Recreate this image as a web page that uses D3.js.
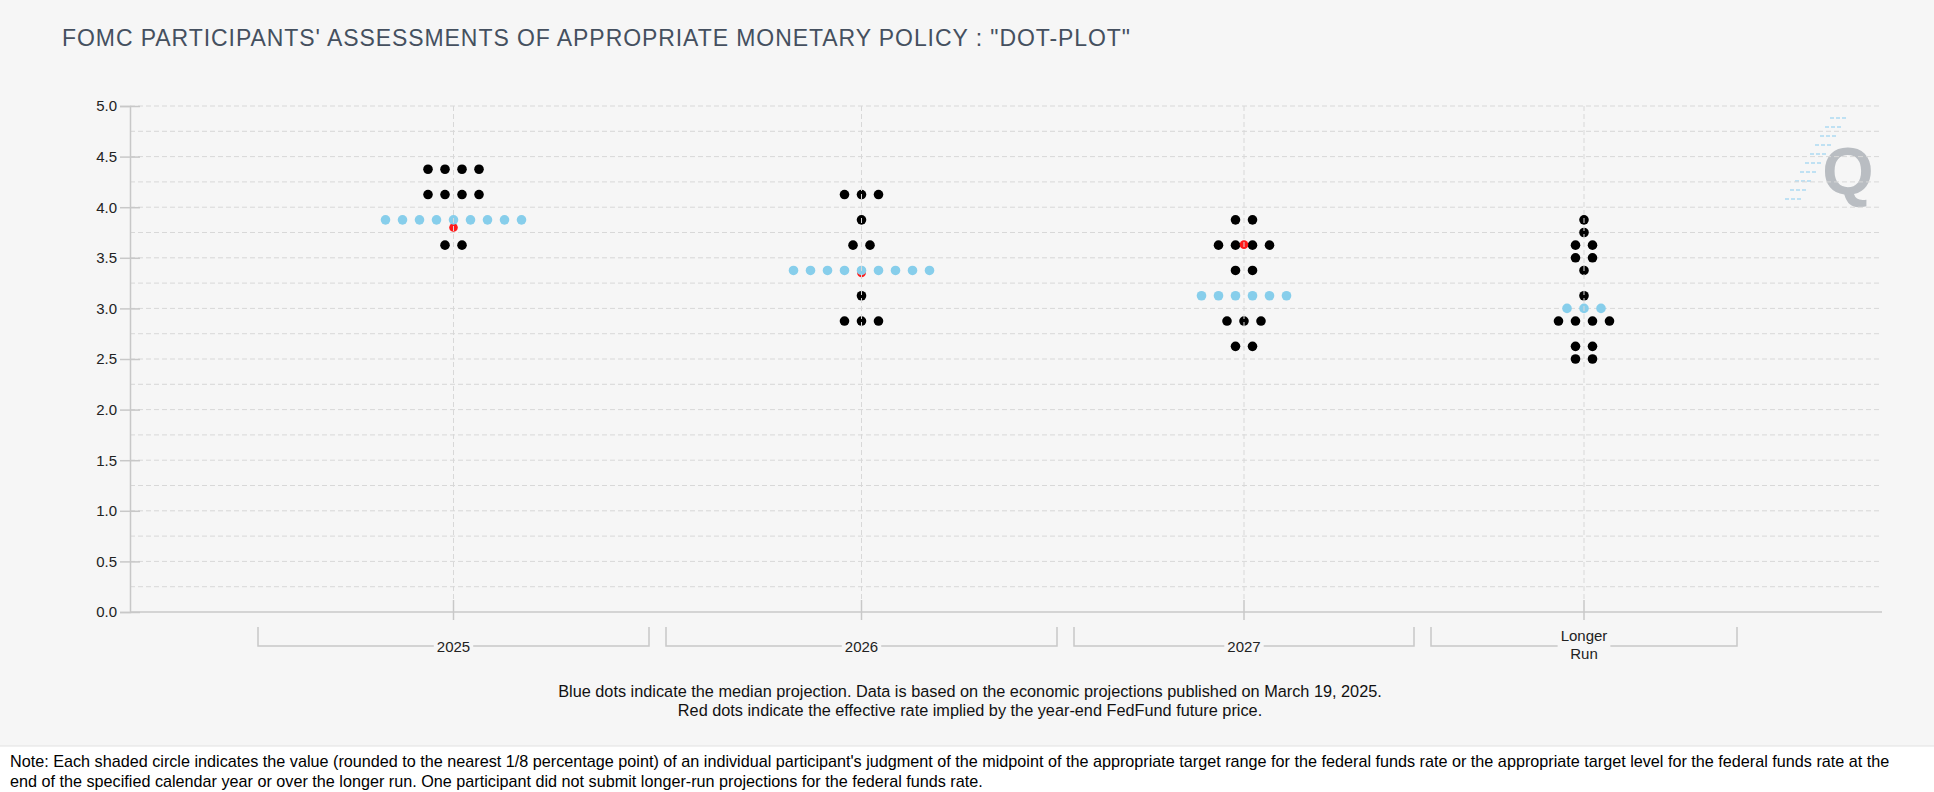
<!DOCTYPE html>
<html>
<head>
<meta charset="utf-8">
<script src="https://cdn.jsdelivr.net/npm/d3@7"></script>
<style>
  body { margin: 0; background: #fff; }
  svg { display: block; font-family: "Liberation Sans", Arial, sans-serif; }
</style>
</head>
<body>
<div id="chart"></div>
<script>
// categories on the x axis
const categories = ['2025', '2026', '2027', 'Longer Run']

// participant dots: rate level and number of participants at that level
const rates2025 = [4.375, 4.125, 3.875, 3.625]
const counts2025 = [4, 4, 9, 2]
const rates2026 = [4.125, 3.875, 3.625, 3.375, 3.125, 2.875]
const counts2026 = [3, 1, 2, 9, 1, 3]
const rates2027 = [3.875, 3.625, 3.375, 3.125, 2.875, 2.625]
const counts2027 = [2, 4, 2, 6, 3, 2]
const ratesLonger = [3.875, 3.75, 3.625, 3.5, 3.375, 3.125, 3.0, 2.875, 2.625, 2.5]
const countsLonger = [1, 1, 2, 2, 1, 1, 3, 4, 2, 2]

// median projection (blue) and futures implied rate (red)
const medians = [3.875, 3.375, 3.125, 3.0]
const futures = [3.80, 3.35, 3.63, null]

// y axis labels
const yTicks = [0, 0.5, 1, 1.5, 2, 2.5, 3, 3.5, 4, 4.5, 5]

const rates = [rates2025, rates2026, rates2027, ratesLonger]
const counts = [counts2025, counts2026, counts2027, countsLonger]

const W = 1934, H = 792
const plotL = 130, plotR = 1880, plotT = 106, plotB = 612

const svg = d3.select('#chart').append('svg')
	.attr('width', W)
	.attr('height', H)

// backgrounds
svg.append('rect').attr('width', W).attr('height', 746).attr('fill', '#f6f6f6')
svg.append('line')
	.attr('x1', 0).attr('x2', W).attr('y1', 746).attr('y2', 746)
	.attr('stroke', '#e2e2e2')

// title
svg.append('text')
	.attr('x', 62).attr('y', 46)
	.attr('font-size', 23)
	.attr('textLength', 1068)
	.attr('lengthAdjust', 'spacing')
	.attr('fill', '#45505f')
	.text('FOMC PARTICIPANTS\' ASSESSMENTS OF APPROPRIATE MONETARY POLICY : "DOT-PLOT"')

// scales
const y = d3.scaleLinear().domain([0, 5]).range([plotB, plotT])

// each band is as wide as its widest dot row plus padding
const dotStep = 17, bandPad = 238, bandGap = 17, bandStart = plotL + 128
const widths = counts.map(c => bandPad + dotStep * d3.max(c))
const starts = widths.map((w, i) => bandStart + d3.sum(widths.slice(0, i)) + i * bandGap)
const x = d3.scaleOrdinal()
	.domain(categories)
	.range(starts.map((s, i) => s + widths[i] / 2))

// watermark
const wm = svg.append('g').attr('transform', 'translate(1836,172)')
d3.range(10).forEach(i => {
	const x2 = 12 - i * 5
	wm.append('line')
		.attr('x1', x2 - 18).attr('x2', x2)
		.attr('y1', -54 + i * 9).attr('y2', -54 + i * 9)
		.attr('stroke', '#bfe1f3').attr('stroke-width', 2)
		.attr('stroke-dasharray', '4,2')
})
wm.append('text')
	.attr('text-anchor', 'middle')
	.attr('x', 12).attr('y', 22)
	.attr('font-size', 66).attr('font-weight', 'bold')
	.attr('fill', '#b9bdc2')
	.text('Q')

// horizontal gridlines
svg.append('g')
	.selectAll('line')
	.data(d3.range(1, 21).map(d => d * 0.25))
	.join('line')
		.attr('x1', plotL).attr('x2', plotR)
		.attr('y1', d => y(d)).attr('y2', d => y(d))
		.attr('stroke', '#d8d8d8')
		.attr('stroke-dasharray', '5,3')

// y axis
const yAxis = svg.append('g')
	.attr('transform', `translate(${plotL},0)`)
	.call(d3.axisLeft(y).tickValues(yTicks).tickFormat(d3.format('.1f')).tickSizeOuter(0).tickSize(10).tickPadding(3))
yAxis.select('.domain').attr('stroke', '#c8c8c8').attr('stroke-width', 1.5)
yAxis.selectAll('.tick line').attr('x2', 10).attr('x1', -10).attr('stroke', '#c8c8c8').attr('stroke-width', 1.5)
yAxis.selectAll('.tick text').attr('font-size', 15).attr('fill', '#222')
	.attr('font-family', '"Liberation Sans", Arial, sans-serif')

// x axis line
svg.append('line')
	.attr('x1', plotL).attr('x2', plotR + 2)
	.attr('y1', plotB).attr('y2', plotB)
	.attr('stroke', '#c8c8c8').attr('stroke-width', 1.5)

// dots
const plot = svg.append('g')
categories.forEach((cat, ci) => {
	const cx = x(cat)
	const rows = rates[ci].map((r, i) => ({ rate: r, n: counts[ci][i] }))
	const pts = []
	rows.filter(r => r.rate !== medians[ci]).forEach(r => {
		d3.range(r.n).forEach(k => pts.push({ rate: r.rate, off: (k - (r.n - 1) / 2) * dotStep }))
	})
	plot.append('g').selectAll('circle')
		.data(pts)
		.join('circle')
			.attr('cx', d => cx + d.off)
			.attr('cy', d => y(d.rate))
			.attr('r', 4.8)
			.attr('fill', '#000')

	if (futures[ci] != null) {
		plot.append('circle')
			.attr('cx', cx)
			.attr('cy', y(futures[ci]))
			.attr('r', 4.3)
			.attr('fill', '#ff1a1a')
	}

	const med = rows.find(r => r.rate === medians[ci])
	plot.append('g').selectAll('circle')
		.data(d3.range(med.n))
		.join('circle')
			.attr('cx', k => cx + (k - (med.n - 1) / 2) * dotStep)
			.attr('cy', y(medians[ci]))
			.attr('r', 4.8)
			.attr('fill', '#87ceeb')
})

// vertical gridlines, center ticks and category brackets
const xg = svg.append('g')
categories.forEach((cat, ci) => {
	const cx = x(cat)
	xg.append('line')
		.attr('x1', cx).attr('x2', cx)
		.attr('y1', plotT).attr('y2', plotB - 12)
		.attr('stroke', '#d8d8d8').attr('stroke-dasharray', '5,3')
	xg.append('line')
		.attr('x1', cx).attr('x2', cx)
		.attr('y1', plotB - 12).attr('y2', plotB + 8)
		.attr('stroke', '#c8c8c8').attr('stroke-width', 1.5)

	const x0 = starts[ci], x1 = starts[ci] + widths[ci]
	xg.append('path')
		.attr('d', `M${x0},627V646H${x1}V627`)
		.attr('fill', 'none')
		.attr('stroke', '#c8c8c8').attr('stroke-width', 1.5)

	const lines = /^\d+$/.test(cat) ? [cat] : cat.split(' ')
	const lab = xg.append('g')
	const txt = lab.append('text')
		.attr('text-anchor', 'middle')
		.attr('font-size', 15)
		.attr('fill', '#222')
	lines.forEach((l, li) => {
		txt.append('tspan')
			.attr('x', cx)
			.attr('y', lines.length === 1 ? 652 : 641 + li * 17.5)
			.text(l)
	})
	const bb = txt.node().getBBox()
	lab.insert('rect', 'text')
		.attr('x', bb.x - 3).attr('y', bb.y)
		.attr('width', bb.width + 6).attr('height', bb.height)
		.attr('fill', '#f6f6f6')
})

// footnotes
const foot = svg.append('g').attr('font-size', 16.3).attr('fill', '#111').attr('text-anchor', 'middle')
foot.append('text').attr('x', 970).attr('y', 697)
	.text('Blue dots indicate the median projection. Data is based on the economic projections published on March 19, 2025.')
foot.append('text').attr('x', 970).attr('y', 716)
	.text('Red dots indicate the effective rate implied by the year-end FedFund future price.')

const note = svg.append('g').attr('font-size', 16.2).attr('fill', '#000')
note.append('text').attr('x', 10).attr('y', 767)
	.text('Note: Each shaded circle indicates the value (rounded to the nearest 1/8 percentage point) of an individual participant\'s judgment of the midpoint of the appropriate target range for the federal funds rate or the appropriate target level for the federal funds rate at the')
note.append('text').attr('x', 10).attr('y', 787)
	.text('end of the specified calendar year or over the longer run. One participant did not submit longer-run projections for the federal funds rate.')
</script>
</body>
</html>
